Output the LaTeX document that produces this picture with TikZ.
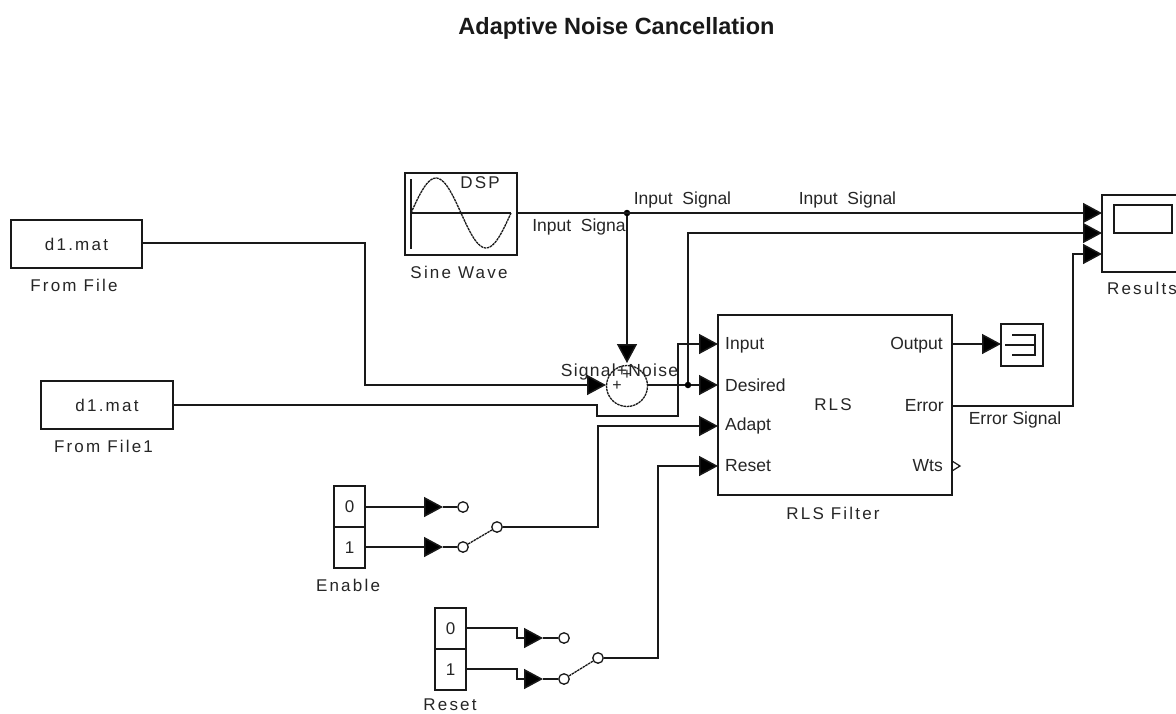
\documentclass[tikz,border=0pt]{standalone}
\usepackage{fontspec}
\setmainfont{Liberation Sans}
\usetikzlibrary{arrows.meta}
\newcommand{\wide}{\addfontfeature{LetterSpace=13}}
\newcommand{\fs}{\fontsize{17}{19}\selectfont}
\tikzset{
 x=1pt,y=-1pt,
 wire/.style={draw=black!90,line width=1.5pt},
 arr/.style={wire,-{Triangle[length=19pt,width=20pt,fill=black]}},
 blockbox/.style={draw=black!90,line width=1.5pt,fill=white,inner sep=0pt,outer sep=0pt,anchor=north west,text=black!85},
 lab/.style={font=\fontsize{17.5}{19}\selectfont,text=black!85,inner sep=0pt},
 wlab/.style={font=\fs\wide,text=black!85,inner sep=0pt},
 jn/.style={circle,fill=black,inner sep=0pt,minimum size=6.5pt},
 sw/.style={circle,draw=black!90,line width=1.3pt,fill=white,inner sep=0pt,minimum size=10.5pt},
 rough/.style={line width=1.3pt,draw=black!90,dash pattern=on 2.5pt off 0.7pt},
}
\newcommand{\bx}[6]{\node[blockbox,minimum width=#4pt,minimum height=#5pt] (#1) at (#2,#3) {#6};}
\begin{document}
\begin{tikzpicture}
\useasboundingbox[fill=white] (0,0) rectangle (1176,713);
\node[font=\bfseries\fontsize{23.5}{25}\selectfont,text=black!90,inner sep=0pt] (title) at (616.5,28) {Adaptive Noise Cancellation};

% blocks
\bx{ff}{11}{220}{131}{48}{\fs\wide d1.mat}
\bx{ff1}{41}{381}{132}{48}{\fs\wide d1.mat}
\bx{sine}{405}{173}{112}{82}{}
\bx{res}{1102}{195}{90}{77}{}
\bx{rls}{718}{315}{234}{180}{}
\bx{term}{1001}{324}{42}{42}{}
\bx{en0}{334}{486}{31}{41}{\fs 0}
\bx{en1}{334}{527}{31}{41}{\fs 1}
\bx{re0}{435}{608}{31}{41}{\fs 0}
\bx{re1}{435}{649}{31}{41}{\fs 1}
\node[circle,rough,minimum size=41pt,inner sep=0pt] (sum) at (627,386) {};
\node[inner sep=0pt,font=\fontsize{16}{16}\selectfont,text=black!85] (p1) at (617,386) {+};
\node[inner sep=0pt,font=\fontsize{16}{16}\selectfont,text=black!85] (p2) at (627,375) {+};

% sine icon
\draw[line width=1.4pt,black!90] (411,179) -- (411,249) (411,213) -- (511,213);
\draw[rough] plot[smooth,domain=0:360,samples=40] ({411+\x/3.6},{213-35*sin(\x)});
% scope icon
\node[blockbox,minimum width=58pt,minimum height=28pt] (screen) at (1114,205) {};
% terminator icon
\draw[line width=1.3pt,black!90] (1012,335) -- (1035,335) -- (1035,355) -- (1012,355) (1005,345) -- (1035,345);

% switches
\node[sw] (s1a) at (463,507) {};
\node[sw] (s1b) at (463,547) {};
\node[sw] (s1p) at (497,527) {};
\node[sw] (s2a) at (564,638) {};
\node[sw] (s2b) at (564,679) {};
\node[sw] (s2p) at (598,658) {};
\draw[rough] (s1b) -- (s1p);
\draw[rough] (s2b) -- (s2p);

% port coordinates
\coordinate (rIn) at (718,344);
\coordinate (rDe) at (718,385);
\coordinate (rAd) at (718,426);
\coordinate (rRe) at (718,466);
\coordinate (rOut) at (952,344);
\coordinate (rErr) at (952,406);
\coordinate (res1) at (1102,213);
\coordinate (res2) at (1102,233);
\coordinate (res3) at (1102,254);
\coordinate (sOut) at (517,213);
\node[jn] (j1) at (627,213) {};
\node[jn] (j2) at (688,385) {};

% connectors
\draw[arr] (sOut) -- (res1);
\draw[arr] (j1) -- (627,363);
\draw[arr] (142,243) -- (365,243) -- (365,385) -- (606,385);
\draw[wire] (648,385) -- (j2);
\draw[arr] (j2) -- (rDe);
\draw[arr] (j2) -- (688,233) -- (res2);
\draw[arr] (173,405) -- (597,405) -- (597,416) -- (678,416) -- (678,344) -- (rIn);
\draw[arr] (s1p) -- (598,527) -- (598,426) -- (rAd);
\draw[arr] (s2p) -- (658,658) -- (658,466) -- (rRe);
\draw[arr] (rOut) -- (1001,344);
\draw[arr] (rErr) -- (1073,406) -- (1073,254) -- (res3);
\draw[arr] (365,507) -- (443,507);
\draw[wire] (443,507) -- (s1a);
\draw[arr] (365,547) -- (443,547);
\draw[wire] (443,547) -- (s1b);
\draw[arr] (466,628) -- (517,628) -- (517,638) -- (543,638);
\draw[wire] (543,638) -- (s2a);
\draw[arr] (466,669) -- (517,669) -- (517,679) -- (543,679);
\draw[wire] (543,679) -- (s2b);

% labels
\node[wlab] (l1) at (74,285) {From File};
\node[wlab] (l2) at (103.5,446) {From File1};
\node[wlab] (l3) at (459,272) {Sine Wave};
\node[wlab] (l4) at (1142,288) {Results};
\node[wlab] (l5) at (348,585) {Enable};
\node[wlab] (l6) at (450,705) {Reset};
\node[wlab] (l7) at (833,513) {RLS Filter};
\node[wlab] (dsp) at (480,183) {DSP};
\node[lab] (t1) at (682.5,200) {Input\ \ Signal};
\node[lab] (t2) at (847.5,200) {Input\ \ Signal};
\node[lab] (t3) at (579,227) {Input\ \ Signa};
\node[lab,font=\fontsize{17.5}{19}\selectfont\addfontfeature{LetterSpace=7}] (t4) at (619.5,372) {Signal+Noise};
\node[lab] (t5) at (1015,420) {Error Signal};
\node[lab,anchor=west] (i1) at (725,345) {Input};
\node[lab,anchor=west] (i2) at (725,385) {Desired};
\node[lab,anchor=west] (i3) at (725,426) {Adapt};
\node[lab,anchor=west] (i4) at (725,466) {Reset};
\node[lab,anchor=east] (o1) at (943,345) {Output};
\node[lab,anchor=east] (o2) at (944,406) {Error};
\node[lab,anchor=east] (o3) at (943,466) {Wts};
\node[wlab] (rls2) at (833,405) {RLS};
\draw[line width=1.2pt,black!90] (952,461) -- (960,466) -- (952,471);
\end{tikzpicture}
\end{document}
